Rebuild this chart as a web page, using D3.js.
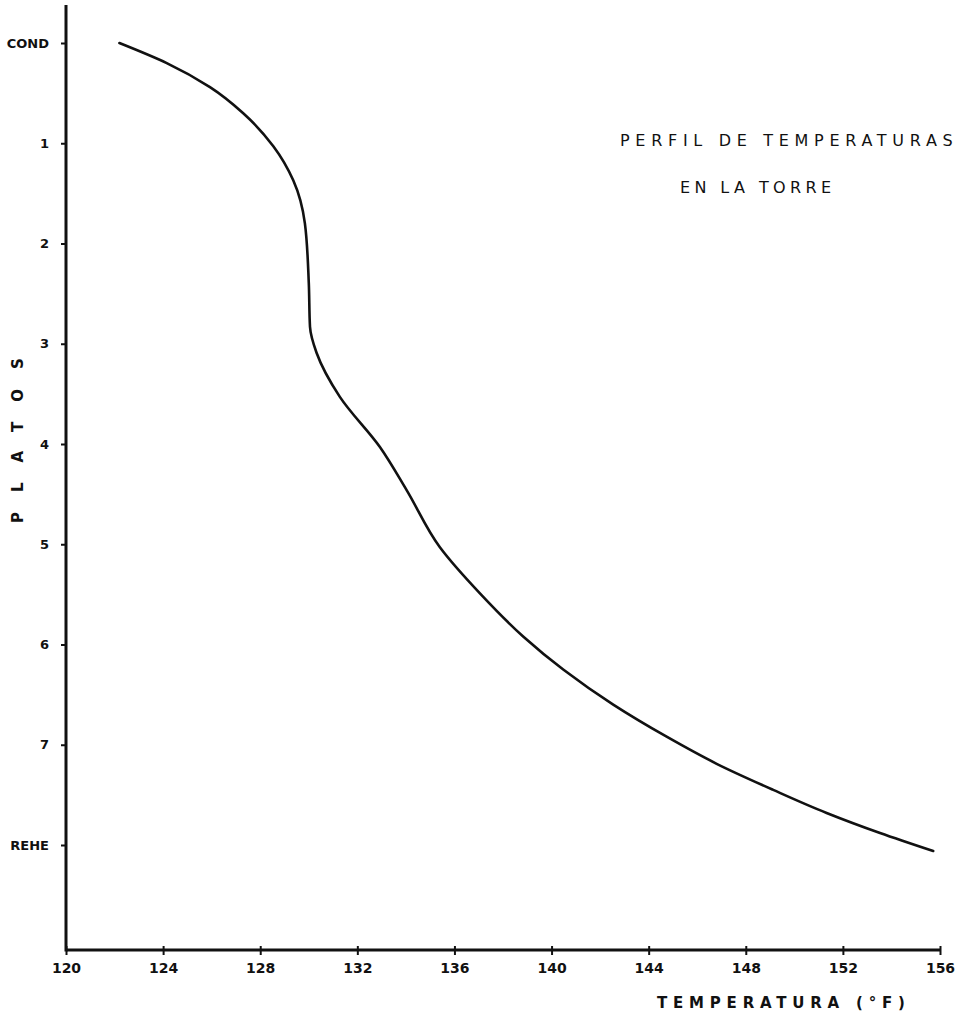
<!DOCTYPE html>
<meta charset="utf-8">
<style>
body { margin: 0; background: #fff; }
svg { display: block; }
.tick text { font-family: "DejaVu Sans", sans-serif; font-weight: bold; fill: #111; }
.axis path, .axis line { stroke: #111; }
</style>
<svg width="963" height="1015"></svg>
<script src="https://d3js.org/d3.v7.min.js"></script>
<script>

// temperature (°F), plate by plate position
var temps  = [122.2, 124.15, 125.93, 127.3, 128.54, 129.36, 129.84, 130.0, 130.05, 130.32, 131.28, 132.93, 134.03, 135.4, 137.05, 138.83, 140.48, 142.54, 144.74, 146.8, 149.13, 151.33, 153.53, 155.72];
var plates = [0, 0.2, 0.44, 0.7, 1.03, 1.37, 1.8, 2.39, 2.83, 3.09, 3.53, 4.03, 4.46, 5.03, 5.49, 5.92, 6.25, 6.6, 6.92, 7.19, 7.45, 7.68, 7.88, 8.06];

var xTicks = [120, 124, 128, 132, 136, 140, 144, 148, 152, 156];
var yTicks = [0, 1, 2, 3, 4, 5, 6, 7, 8];
var yTickLabels = ["COND", "1", "2", "3", "4", "5", "6", "7", "REHE"];

var svg = d3.select("svg");

var x = d3.scaleLinear()
    .domain([120, 156])
    .range([66, 940]);

var y = d3.scaleLinear()
    .domain([0, 8])
    .range([43, 845]);

// axes
var xAxis = svg.append("g")
    .attr("class", "axis")
    .attr("transform", "translate(0," + 950 + ")")
    .call(d3.axisBottom(x)
      .tickValues(xTicks)
      .tickSize(5)
      .tickSizeOuter(0)
      .tickPadding(8));
xAxis.select(".domain").attr("stroke-width", 3).attr("d", "M66,0H940");
xAxis.selectAll(".tick line").attr("stroke-width", 2).attr("y1", -4);
xAxis.selectAll(".tick text").attr("font-size", 14);

var yAxis = svg.append("g")
    .attr("class", "axis")
    .attr("transform", "translate(66,0)")
    .call(d3.axisLeft(y)
      .tickValues(yTicks)
      .tickFormat(function(d, i) { return yTickLabels[i]; })
      .tickSize(5)
      .tickSizeOuter(0)
      .tickPadding(12));
yAxis.select(".domain").attr("stroke-width", 3).attr("d", "M0,5V951.5");
yAxis.selectAll(".tick line").attr("stroke-width", 2);
yAxis.selectAll(".tick text").attr("font-size", 13);

// curve
var pts = temps.map(function(t, i) { return [t, plates[i]]; });

svg.append("path")
    .datum(pts)
    .attr("fill", "none")
    .attr("stroke", "#111")
    .attr("stroke-width", 2.6)
    .attr("stroke-linecap", "round")
    .attr("d", d3.line()
      .x(function(d) { return x(d[0]); })
      .y(function(d) { return y(d[1]); })
      .curve(d3.curveMonotoneY));

// titles
svg.append("text")
    .attr("x", 620)
    .attr("y", 146)
    .attr("font-family", "DejaVu Sans, sans-serif")
    .attr("font-size", 16)
    .attr("letter-spacing", 5.7)
    .attr("fill", "#111")
    .text("PERFIL DE TEMPERATURAS");

svg.append("text")
    .attr("x", 680)
    .attr("y", 193)
    .attr("font-family", "DejaVu Sans, sans-serif")
    .attr("font-size", 16)
    .attr("letter-spacing", 4.4)
    .attr("fill", "#111")
    .text("EN LA TORRE");

svg.append("text")
    .attr("x", 657)
    .attr("y", 1008)
    .attr("font-family", "DejaVu Sans, sans-serif")
    .attr("font-weight", "bold")
    .attr("font-size", 15)
    .attr("letter-spacing", 5.8)
    .attr("fill", "#111")
    .text("TEMPERATURA (°F)");

svg.append("text")
    .attr("transform", "translate(23,523) rotate(-90)")
    .attr("font-family", "DejaVu Sans, sans-serif")
    .attr("font-weight", "bold")
    .attr("font-size", 15)
    .attr("letter-spacing", 20)
    .attr("fill", "#111")
    .text("PLATOS");

</script>
